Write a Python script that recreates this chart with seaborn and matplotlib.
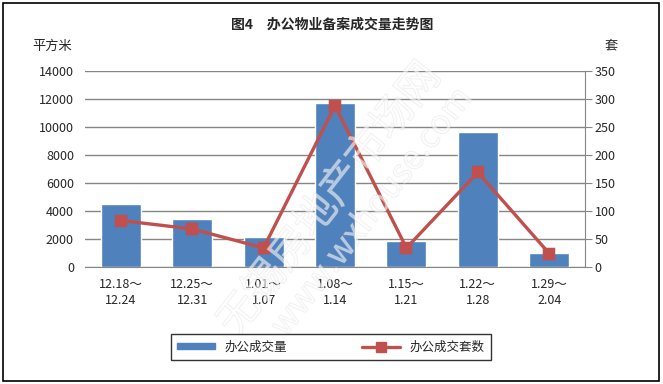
import numpy as np
import pandas as pd
import matplotlib
matplotlib.use("Agg")
import matplotlib.pyplot as plt
import matplotlib.patheffects as pe
import seaborn as sns
from matplotlib.patches import Rectangle
from matplotlib.lines import Line2D
from matplotlib.patches import Patch

# -------------------------------
# Data
# -------------------------------
weeks = ["12.18～\n12.24", "12.25～\n12.31", "1.01～\n1.07", "1.08～\n1.14",
         "1.15～\n1.21", "1.22～\n1.28", "1.29～\n2.04"]
area = [4520, 3450, 2170, 11690, 1880, 9670, 1020]      # 办公成交量 (平方米)
units = [83, 68, 34, 288, 34, 169, 24]                  # 办公成交套数 (套)

left_ticks = [0, 2000, 4000, 6000, 8000, 10000, 12000, 14000]
right_ticks = [0, 50, 100, 150, 200, 250, 300, 350]

df = pd.DataFrame({"week": weeks, "area": area, "units": units})

BAR = "#4F81BD"
LINE = "#C0504D"
GRID = "#868686"

sns.set_style("white")
plt.rcParams["font.family"] = ["Noto Sans CJK SC", "DejaVu Sans"]

fig = plt.figure(figsize=(6.63, 3.84), dpi=100)
ax = fig.add_axes([85 / 663, 1 - 267 / 384, 500 / 663, 196 / 384])

# -------------------------------
# Bars
# -------------------------------
sns.barplot(data=df, x="week", y="area", color=BAR, saturation=1,
            width=0.56, ax=ax, zorder=2)
ax.set_ylim(0, 14000)
ax.set_yticks(left_ticks)
ax.set_xlim(-0.5, 6.5)
ax.yaxis.grid(True, color=GRID, linewidth=1)
ax.set_axisbelow(True)
for s in ["left", "top", "right"]:
    ax.spines[s].set_visible(False)
ax.spines["bottom"].set_color(GRID)
ax.tick_params(axis="y", length=0, labelsize=9, pad=8)
ax.tick_params(axis="x", length=0, labelsize=9, pad=8)
ax.set_xlabel("")
ax.set_ylabel("")
for lab in ax.get_xticklabels():
    lab.set_linespacing(1.25)

# -------------------------------
# Line (twin axis)
# -------------------------------
ax2 = ax.twinx()
sns.pointplot(data=df, x="week", y="units", color=LINE, marker="s",
              markersize=7, linewidth=2.4, ax=ax2)
ax2.set_ylim(0, 350)
ax2.set_yticks(right_ticks)
ax2.set_xlim(-0.5, 6.5)
for s in ["left", "top", "bottom"]:
    ax2.spines[s].set_visible(False)
ax2.spines["right"].set_color(GRID)
ax2.tick_params(axis="y", length=5, color=GRID, labelsize=9, pad=2)
ax2.set_ylabel("")
ax2.set_xlabel("")

# -------------------------------
# Texts
# -------------------------------
fig.text(332 / 663, 1 - 25 / 384, "图4　办公物业备案成交量走势图",
         ha="center", va="center", fontsize=10, fontweight="bold")
fig.text(52 / 663, 1 - 46 / 384, "平方米", ha="center", va="center", fontsize=9.5)
fig.text(611 / 663, 1 - 46 / 384, "套", ha="center", va="center", fontsize=9.5)

# watermark (outlined, faint)
wm_fx = [pe.Stroke(linewidth=0.8, foreground="#d4d4d4"), pe.Normal()]
fig.text(330 / 663, 1 - 200 / 384, "无锡房地产市场网", rotation=52,
         ha="center", va="center", fontsize=30, color="white", alpha=0.35,
         path_effects=wm_fx, zorder=5)
fig.text(372 / 663, 1 - 212 / 384, "www.wxhouse.com", rotation=52,
         ha="center", va="center", fontsize=24, color="white", alpha=0.35,
         path_effects=wm_fx, zorder=5)

# -------------------------------
# Legend
# -------------------------------
handles = [Patch(facecolor=BAR, edgecolor=BAR),
           Line2D([0], [0], color=LINE, linewidth=2.4, marker="s", markersize=7)]
leg = fig.legend(handles, ["办公成交量", "办公成交套数"], ncol=2,
                 loc="center", bbox_to_anchor=(331 / 663, 1 - 347 / 384),
                 frameon=True, fancybox=False, fontsize=9,
                 handlelength=3, handleheight=0.4, columnspacing=6,
                 borderpad=0.5)
leg.get_frame().set_edgecolor("black")
leg.get_frame().set_linewidth(1)

# outer border
fig.patches.append(Rectangle((3 / 663, 3 / 384), 656 / 663, 378 / 384,
                             transform=fig.transFigure, fill=False,
                             edgecolor="black", linewidth=1.2))

fig.savefig("out.png", dpi=100)
